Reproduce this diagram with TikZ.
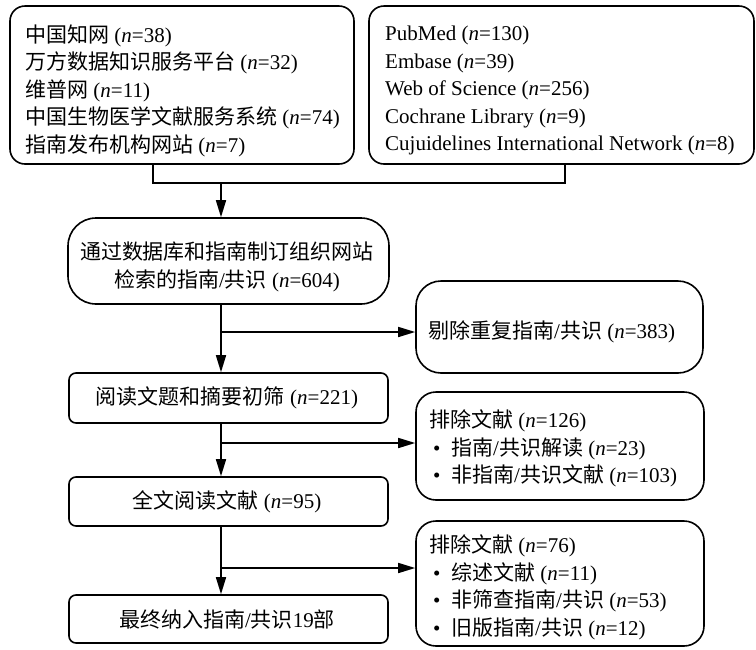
\documentclass[tikz,border=0pt]{standalone}
\usepackage{fontspec}
\setmainfont{Liberation Serif}
\newfontfamily\cjk{Noto Sans CJK SC}
\newcommand\zw[1]{{\cjk #1}}
\newcommand\bul{\hspace*{4pt}\makebox[18pt][l]{•}}
\usetikzlibrary{arrows.meta}
\begin{document}
\begin{tikzpicture}[x=1pt,y=-1pt,
  font=\fontsize{21pt}{27.5pt}\selectfont,
  box/.style={draw, line width=1.6pt, inner sep=0pt},
  txt/.style={inner sep=0pt},
  conn/.style={line width=1.6pt},
  arr/.style={line width=1.6pt, -{Triangle[length=17pt,width=10pt]}}]
\useasboundingbox (0,0) rectangle (756,649);
% boxes
\node[box, minimum width=344pt, minimum height=158pt, rounded corners=15pt] (A) at (182,85) {};
\node[box, minimum width=385pt, minimum height=158pt, rounded corners=15pt] (B) at (561.5,85) {};
\node[box, minimum width=321pt, minimum height=86pt, rounded corners=28pt] (C) at (228.5,261) {};
\node[box, minimum width=287pt, minimum height=92pt, rounded corners=25pt] (D) at (559.5,327) {};
\node[box, minimum width=319pt, minimum height=50pt, rounded corners=7pt] (E) at (228.5,398) {};
\node[box, minimum width=288pt, minimum height=108pt, rounded corners=20pt] (F) at (560,446) {};
\node[box, minimum width=319pt, minimum height=49pt, rounded corners=7pt] (G) at (228.5,501.5) {};
\node[box, minimum width=288pt, minimum height=125pt, rounded corners=20pt] (H) at (560,583.5) {};
\node[box, minimum width=319pt, minimum height=48pt, rounded corners=7pt] (I) at (228.5,619) {};
% texts
\node[txt, anchor=west, align=left] (ta) at (25,90.5) {\zw{中国知网} (\textit{n}=38)\\\zw{万方数据知识服务平台} (\textit{n}=32)\\\zw{维普网} (\textit{n}=11)\\\zw{中国生物医学文献服务系统} (\textit{n}=74)\\\zw{指南发布机构网站} (\textit{n}=7)};
\node[txt, anchor=west, align=left] (tb) at (385,90.5) {PubMed (\textit{n}=130)\\Embase (\textit{n}=39)\\Web of Science (\textit{n}=256)\\Cochrane Library (\textit{n}=9)\\Cujuidelines International Network (\textit{n}=8)};
\node[txt, align=center] (tc) at (227,267) {\zw{通过数据库和指南制订组织网站}\\\zw{检索的指南}/\zw{共识} (\textit{n}=604)};
\node[txt, anchor=west] (td) at (428,332) {\zw{剔除重复指南}/\zw{共识} (\textit{n}=383)};
\node[txt] (te) at (227,398) {\zw{阅读文题和摘要初筛} (\textit{n}=221)};
\node[txt, anchor=west, align=left] (tf) at (429,448.5) {\zw{排除文献} (\textit{n}=126)\\\bul\zw{指南}/\zw{共识解读} (\textit{n}=23)\\\bul\zw{非指南}/\zw{共识文献} (\textit{n}=103)};
\node[txt] (tg) at (227,501.5) {\zw{全文阅读文献} (\textit{n}=95)};
\node[txt, anchor=west, align=left] (th) at (429,587.5) {\zw{排除文献} (\textit{n}=76)\\\bul\zw{综述文献} (\textit{n}=11)\\\bul\zw{非筛查指南}/\zw{共识} (\textit{n}=53)\\\bul\zw{旧版指南}/\zw{共识} (\textit{n}=12)};
\node[txt] (ti) at (227,619) {\zw{最终纳入指南}/\zw{共识}19\zw{部}};
% connectors
\coordinate (j1) at (153,183);
\coordinate (j2) at (565,183);
\coordinate (j3) at (221,183);
\coordinate (b1) at (221,332);
\coordinate (b2) at (221,443);
\coordinate (b3) at (221,568);
\draw[conn] (A.south -| j1) -- (j1) -- (j2) -- (B.south -| j2);
\draw[arr] (j3) -- (C.north -| j3);
\draw[arr] (C.south -| b1) -- (E.north -| b1);
\draw[arr] (b1) -- (b1 -| D.west);
\draw[arr] (E.south -| b2) -- (G.north -| b2);
\draw[arr] (b2) -- (b2 -| F.west);
\draw[arr] (G.south -| b3) -- (I.north -| b3);
\draw[arr] (b3) -- (b3 -| H.west);
\end{tikzpicture}
\end{document}
